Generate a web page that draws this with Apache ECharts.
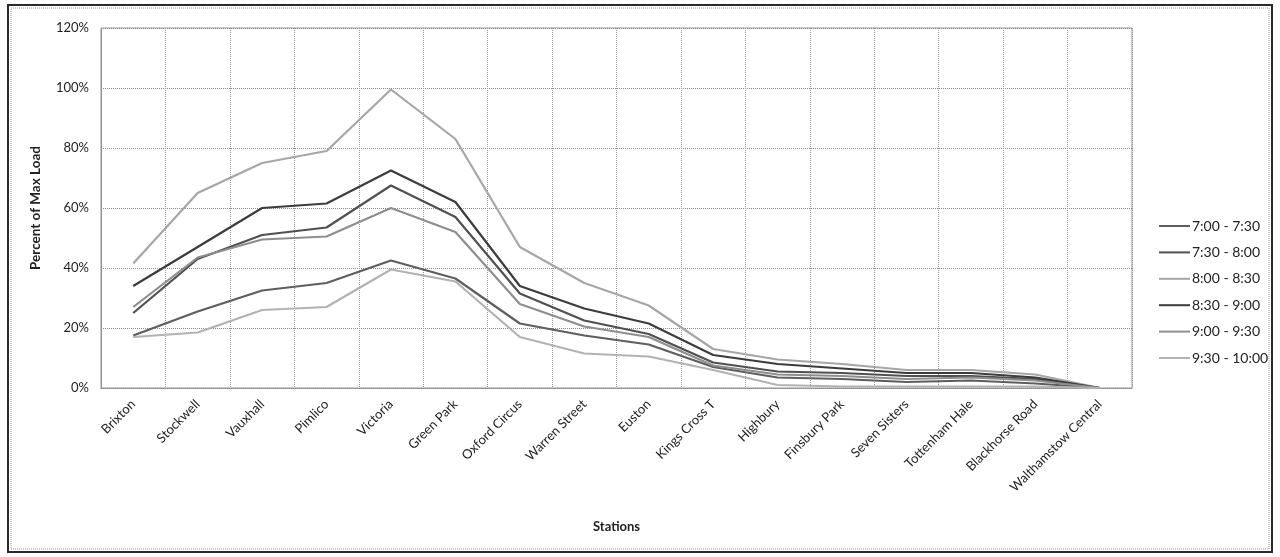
<!DOCTYPE html>
<html>
<head>
<meta charset="utf-8">
<title>Percent of Max Load by Station</title>
<script src="https://cdn.jsdelivr.net/npm/echarts@6/dist/echarts.min.js"></script>
<style>
  html, body { margin: 0; padding: 0; background: #fff; }
  #chart { width: 1280px; height: 557px; }
</style>
</head>
<body>
<div id="chart"></div>
<script>
// Stations along the line, south to north
const stations = ['Brixton', 'Stockwell', 'Vauxhall', 'Pimlico', 'Victoria', 'Green Park',
  'Oxford Circus', 'Warren Street', 'Euston', 'Kings Cross T', 'Highbury', 'Finsbury Park',
  'Seven Sisters', 'Tottenham Hale', 'Blackhorse Road', 'Walthamstow Central'];

// Load as percent of maximum, per half-hour departure window
const load0700 = [17.5, 25.5, 32.5, 35, 42.5, 36.5, 21.5, 17.5, 14.5, 7, 3.5, 3, 2, 2.5, 1.5, 0];
const load0730 = [25, 43, 51, 53.5, 67.5, 57, 31.5, 22.5, 18, 8.5, 5.5, 5, 4, 4, 3, 0];
const load0800 = [41.5, 65, 75, 79, 99.5, 83, 47, 35, 27.5, 13, 9.5, 8, 6, 6, 4.5, 0];
const load0830 = [34, 47, 60, 61.5, 72.5, 62, 34, 26.5, 21.5, 11, 8, 6.5, 5, 5, 3.5, 0];
const load0900 = [27, 43.5, 49.5, 50.5, 60, 52, 28, 20.5, 17, 7.5, 4.5, 4, 3, 3.5, 2.5, 0];
const load0930 = [17, 18.5, 26, 27, 39.5, 35.5, 17, 11.5, 10.5, 6, 1, 0.5, 0.5, 0.5, 0.5, 0];

const windows = ['7:00 - 7:30', '7:30 - 8:00', '8:00 - 8:30', '8:30 - 9:00', '9:00 - 9:30', '9:30 - 10:00'];
const seriesValues = [load0700, load0730, load0800, load0830, load0900, load0930];
const lineColors = ['#5e5e5e', '#505050', '#a6a6a6', '#3c3c3c', '#8e8e8e', '#b2b2b2'];

// y-axis ticks
const yTicks = [0, 20, 40, 60, 80, 100, 120];

const FONT = 'Lato, "Liberation Sans", sans-serif';

const chart = echarts.init(document.getElementById('chart'));

const series = windows.map((name, i) => ({
  name: name,
  type: 'line',
  data: seriesValues[i],
  symbol: 'none',
  showSymbol: false,
  lineStyle: { color: lineColors[i], width: 2.2 },
  itemStyle: { color: lineColors[i] },
  emphasis: { disabled: true },
  z: 3
}));

chart.setOption({
  animation: false,
  backgroundColor: '#fff',
  textStyle: { fontFamily: FONT },
  graphic: [
    {
      type: 'rect',
      shape: { x: 8, y: 5, width: 1264, height: 547 },
      style: { fill: 'none', stroke: '#2a2a2a', lineWidth: 2 },
      silent: true
    },
    {
      type: 'rect',
      shape: { x: 11, y: 8, width: 1258, height: 541 },
      style: { fill: 'none', stroke: '#9a9a9a', lineWidth: 1, lineDash: [1, 1] },
      silent: true
    }
  ],
  grid: {
    left: 101, right: 148, top: 28, bottom: 169,
    show: true, borderColor: '#9a9a9a', borderWidth: 1, containLabel: false
  },
  legend: {
    orient: 'vertical',
    left: 1154,
    top: 213,
    icon: 'rect',
    itemWidth: 31,
    itemHeight: 2,
    itemGap: 10.4,
    data: windows,
    textStyle: { fontFamily: FONT, fontSize: 14, color: '#222', lineHeight: 16, padding: [0, 0, 0, -3] }
  },
  xAxis: {
    type: 'category',
    data: stations,
    boundaryGap: true,
    name: 'Stations',
    nameLocation: 'middle',
    nameGap: 132,
    nameTextStyle: { fontFamily: FONT, fontSize: 13, fontWeight: 'bold', color: '#222' },
    axisLine: { lineStyle: { color: '#8a8a8a', type: [1, 1] } },
    axisTick: { show: false },
    axisLabel: { rotate: 45, interval: 0, margin: 14, fontSize: 13, color: '#222', fontFamily: FONT },
    splitLine: { show: true, lineStyle: { color: '#9a9a9a', type: [1, 1] } }
  },
  yAxis: {
    type: 'value',
    min: yTicks[0],
    max: yTicks[yTicks.length - 1],
    interval: 20,
    name: 'Percent of Max Load',
    nameLocation: 'middle',
    nameRotate: 90,
    nameGap: 58,
    nameTextStyle: { fontFamily: FONT, fontSize: 13.5, fontWeight: 'bold', color: '#222' },
    axisLine: { show: true, lineStyle: { color: '#8a8a8a', type: [1, 1] } },
    axisTick: { show: false },
    axisLabel: { formatter: '{value}%', margin: 12, fontSize: 13, color: '#222', fontFamily: FONT },
    splitLine: { show: true, lineStyle: { color: '#8a8a8a', type: [1, 1] } }
  },
  series: series
});
</script>
</body>
</html>
